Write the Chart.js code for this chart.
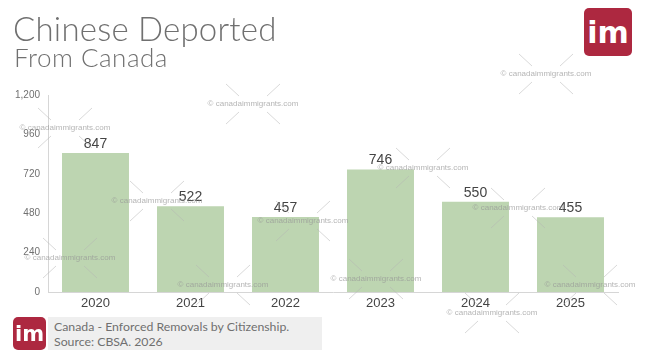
<!DOCTYPE html>
<html>
<head>
<meta charset="utf-8">
<script src="https://cdn.jsdelivr.net/npm/chart.js@4"></script>
<style>
  html, body { margin: 0; padding: 0; background: #fff; }
  #wrap { position: relative; width: 645px; height: 363px; overflow: hidden; font-family: 'Lato', sans-serif; }
  #chart { position: absolute; left: 0; top: 0; }
  .title { position: absolute; left: 13px; top: 8px; font-size: 33px; font-weight: 300; color: #707070; letter-spacing: 0.2px; }
  .subtitle { position: absolute; left: 14px; top: 41px; font-size: 26px; font-weight: 300; color: #707070; letter-spacing: 0.5px; }
  .logo { position: absolute; background: #ad2840; border-radius: 5px; color: #fff; font-family: 'DejaVu Sans', sans-serif; font-weight: bold; text-align: center; }
  .logo.big { left: 584px; top: 8px; width: 48px; height: 48px; font-size: 30px; line-height: 50px; }
  .logo.small { left: 13px; top: 317px; width: 33px; height: 33px; font-size: 21px; line-height: 35px; }
  .footer { position: absolute; left: 48px; top: 317px; width: 274px; height: 33px; background: #efefef; color: #707070; font-size: 12.3px; line-height: 15px; padding: 2px 0 0 6px; box-sizing: border-box; }
</style>
</head>
<body>
<div id="wrap">
  <canvas id="chart" width="645" height="363"></canvas>
  <div class="title">Chinese Deported</div>
  <div class="subtitle">From Canada</div>
  <div class="logo big">im</div>
  <div class="logo small">im</div>
  <div class="footer">Canada - Enforced Removals by Citizenship.<br>Source: CBSA. 2026</div>
</div>
<script>
const years = ['2020', '2021', '2022', '2023', '2024', '2025'];
const removals = [847, 522, 457, 746, 550, 455];
const yTicks = [0, 240, 480, 720, 960, 1200];

// watermark spots (text centre)
const marks = [
    [253, 104], [546, 74], [65, 128], [157, 201], [303, 221], [423, 168],
    [518, 208], [70, 258], [223, 285], [376, 279], [590, 285], [492, 313]
];

const watermark = {
    id: 'watermark',
    afterDatasetsDraw(chart) {
        const ctx = chart.ctx;
        ctx.save();
        ctx.strokeStyle = 'rgba(180,180,180,0.5)';
        ctx.lineWidth = 1;
        ctx.fillStyle = 'rgba(150,150,150,0.7)';
        ctx.font = '8px "Liberation Sans", sans-serif';
        ctx.textAlign = 'center';
        ctx.textBaseline = 'middle';
        marks.forEach(([x, y]) => {
            ctx.beginPath();
            ctx.moveTo(x - 27, y - 20); ctx.lineTo(x - 14, y - 8);
            ctx.moveTo(x + 27, y - 20); ctx.lineTo(x + 14, y - 8);
            ctx.moveTo(x - 27, y + 20); ctx.lineTo(x - 14, y + 8);
            ctx.moveTo(x + 27, y + 20); ctx.lineTo(x + 14, y + 8);
            ctx.stroke();
            ctx.fillText('© canadaimmigrants.com', x, y);
        });
        ctx.restore();
    }
};

const barLabels = {
    id: 'barLabels',
    afterDatasetsDraw(chart) {
        const ctx = chart.ctx;
        const meta = chart.getDatasetMeta(0);
        ctx.save();
        ctx.fillStyle = '#444';
        ctx.font = '14px "Liberation Sans", sans-serif';
        ctx.textAlign = 'center';
        ctx.textBaseline = 'bottom';
        meta.data.forEach((bar, i) => {
            ctx.fillText(removals[i], bar.x, bar.y - 2);
        });
        ctx.restore();
    }
};

new Chart(document.getElementById('chart'), {
    type: 'bar',
    data: {
        labels: years,
        datasets: [{
            data: removals,
            backgroundColor: '#bdd5b1',
            categoryPercentage: 1,
            barPercentage: 0.705
        }]
    },
    options: {
        responsive: false,
        animation: false,
        layout: { padding: { left: 0, right: 27, top: 95, bottom: 51 } },
        plugins: { legend: { display: false }, tooltip: { enabled: false } },
        scales: {
            x: {
                grid: { display: false, drawTicks: false },
                border: { color: '#d6d6d6' },
                ticks: { color: '#444', font: { family: 'Liberation Sans', size: 13 }, padding: 4 },
                afterFit: s => { s.height = 20; }
            },
            y: {
                min: 0,
                max: 1200,
                afterBuildTicks: s => { s.ticks = yTicks.map(v => ({ value: v })); },
                grid: { display: false, drawTicks: false },
                border: { color: '#d6d6d6' },
                ticks: {
                    color: '#707070',
                    font: { family: 'Liberation Sans', size: 10 },
                    padding: 8,
                    callback: v => v.toLocaleString('en-US')
                },
                afterFit: s => { s.width = 48; }
            }
        }
    },
    plugins: [barLabels, watermark]
});
</script>
</body>
</html>
